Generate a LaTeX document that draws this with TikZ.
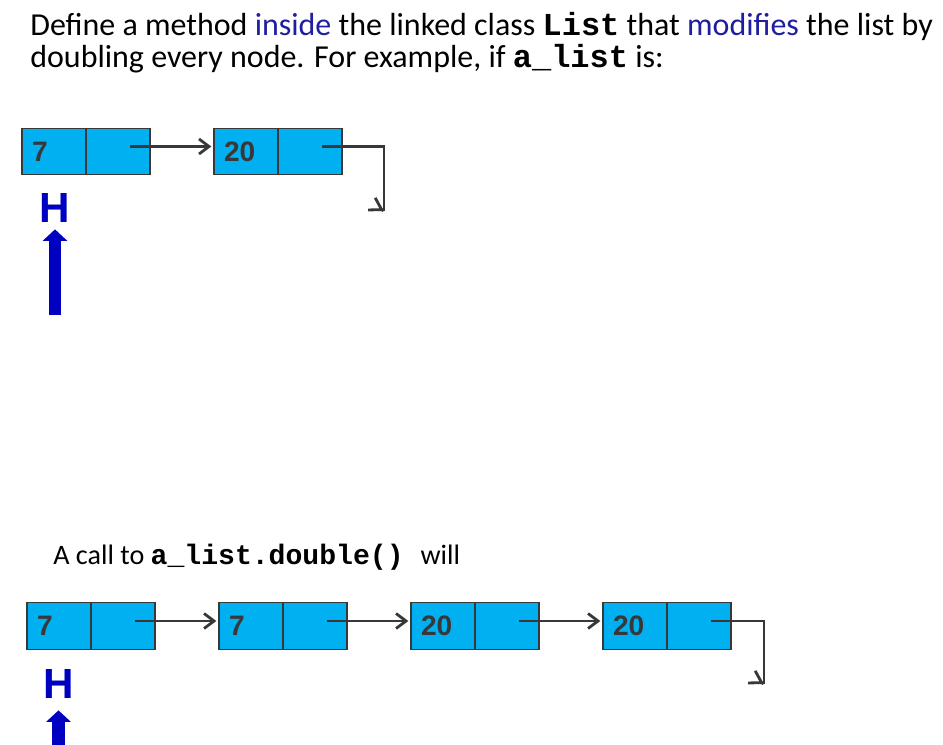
\documentclass[tikz,border=0pt]{standalone}
\usepackage{fontspec}
\setmainfont{Carlito}
\newfontfamily\arialfont{Liberation Sans}
\newfontfamily\codefont{Liberation Mono}
\usetikzlibrary{positioning, arrows.meta}
\definecolor{cellblue}{HTML}{00B0F0}
\definecolor{darkline}{HTML}{383838}
\definecolor{headblue}{HTML}{0000C0}
\definecolor{wordblue}{HTML}{1E1E9E}
\tikzset{
  valcell/.style={draw=darkline, fill=cellblue, line width=0.8pt, minimum width=1.28cm, minimum height=0.93cm, inner sep=0pt, outer sep=0pt, text width=0.88cm, align=left, text=darkline, font=\arialfont\bfseries\fontsize{16}{18}\selectfont},
  ptrcell/.style={draw=darkline, fill=cellblue, line width=0.8pt, minimum width=1.28cm, minimum height=0.93cm, inner sep=0pt, outer sep=0pt},
  link/.style={draw=darkline, line width=1.6pt, -{Straight Barb[length=2mm, width=3mm, line width=1.6pt]}, shorten >=1.5pt},
  nilline/.style={draw=darkline, line width=1.6pt},
  niltip/.style={draw=darkline, line width=1.6pt, -{Straight Barb[length=2.3mm, width=2.8mm, line width=1.6pt]}},
  headlbl/.style={text=headblue, inner sep=0pt, font=\arialfont\bfseries\fontsize{24}{28}\selectfont},
  headptr/.style={draw=headblue, line width=7pt, -{Triangle[length=2.3mm, width=4.8mm]}},
  prose/.style={anchor=base west, inner sep=0pt, font=\fontsize{16}{19}\selectfont}
}
\newcommand{\cdtxt}[1]{{\codefont\bfseries #1}}
% one list node: value half + next half
\newcommand{\llnode}[4]{\node[valcell] (#1v) at (#2,#3) {#4};
  \node[ptrcell, right=0pt of #1v] (#1p) {};}

\begin{document}
\begin{tikzpicture}[x=0.02cm, y=-0.02cm]
\clip (0,0) rectangle (943,744);
\node[prose, font=\fontsize{18.2}{21}\selectfont] (intro1) at (30,35) {Define a method \textcolor{wordblue}{inside} the linked class \cdtxt{List} that \textcolor{wordblue}{modifies} the list by};
\node[prose, font=\fontsize{18.2}{21}\selectfont] (intro2) at (30,67) {doubling every node. For example, if \cdtxt{a\_list} is:};

% list before
\llnode{a}{54}{151.5}{7}
\llnode{b}{246}{151.5}{20}
\coordinate (nilb) at (384,211);
\draw[link] ([xshift=0.24cm, yshift=0.1cm]ap.center) -- ([yshift=0.1cm]bv.west);
\draw[nilline] ([xshift=0.24cm, yshift=0.1cm]bp.center) -| (nilb);
\draw[niltip] ([xshift=-0.26pt, yshift=0.15pt]nilb) -- (nilb);
\node[headlbl] (hd1) at (55,207.5) {H};
\coordinate (hbase1) at (55,315);
\draw[headptr] (hbase1) -- (hd1.south) [shorten >=0.14cm];

\node[prose] (call) at (53,564) {A call to \cdtxt{a\_list.double()\ }will};

% list after
\llnode{c}{59}{626}{7}
\llnode{d}{251}{626}{7}
\llnode{e}{443}{626}{20}
\llnode{f}{635}{626}{20}
\coordinate (nilf) at (764,684);
\draw[link] ([xshift=0.24cm, yshift=0.1cm]cp.center) -- ([yshift=0.1cm]dv.west);
\draw[link] ([xshift=0.24cm, yshift=0.1cm]dp.center) -- ([yshift=0.1cm]ev.west);
\draw[link] ([xshift=0.24cm, yshift=0.1cm]ep.center) -- ([yshift=0.1cm]fv.west);
\draw[nilline] ([xshift=0.24cm, yshift=0.1cm]fp.center) -| (nilf);
\draw[niltip] ([xshift=-0.26pt, yshift=0.15pt]nilf) -- (nilf);
\node[headlbl] (hd2) at (58.5,683.5) {H};
\coordinate (hbase2) at (58.5,760);
\draw[headptr] (hbase2) -- (hd2.south) [shorten >=0.24cm];
\end{tikzpicture}
\end{document}
